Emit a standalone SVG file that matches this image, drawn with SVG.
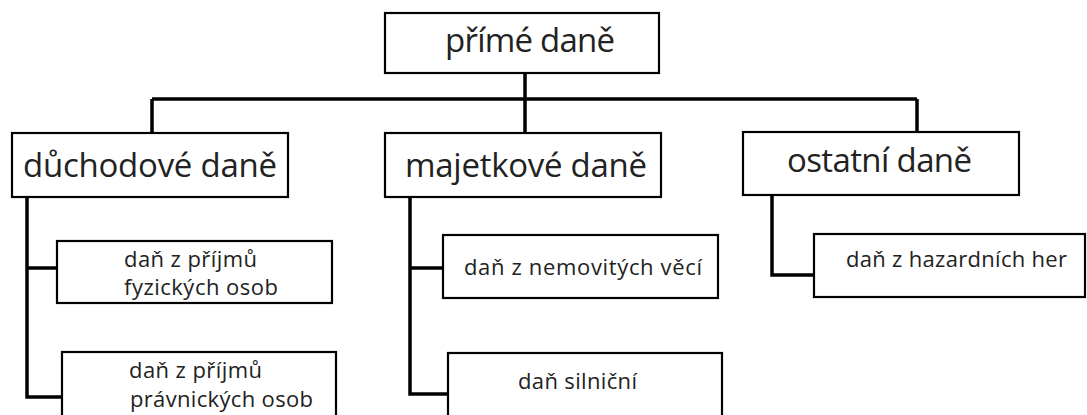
<svg xmlns="http://www.w3.org/2000/svg" width="1087" height="415" viewBox="0 0 1087 415">
<style>
.box{fill:#fff;stroke:#000;stroke-width:2.2}
.con{fill:none;stroke:#000;stroke-width:3.5;stroke-linejoin:miter}
.t{font-family:"Open Sans","Noto Sans","DejaVu Sans",sans-serif;fill:#222}
.big{font-size:33px}
.sm{font-size:22px}
</style>
<rect width="1087" height="415" fill="#fff"/>
<g id="connectors">
<path class="con" d="M525 73V99M152 99H917M152 99V133M525 99V133M917 99V132"/>
<path class="con" d="M27 197V397H62M27 268H57"/>
<path class="con" d="M410 196V394H449M410 268H443"/>
<path class="con" d="M772 195V275H814"/>
</g>
<g id="n-prime">
<rect class="box" x="385" y="13" width="274" height="60"/>
<text class="t big" x="445" y="52" textLength="170">přímé daně</text>
</g>
<g id="n-duchodove">
<rect class="box" x="12" y="133" width="276" height="64"/>
<text class="t big" x="23" y="177" textLength="254">důchodové daně</text>
</g>
<g id="n-majetkove">
<rect class="box" x="385" y="133" width="276" height="64"/>
<text class="t big" x="405" y="177" textLength="242">majetkové daně</text>
</g>
<g id="n-ostatni">
<rect class="box" x="743" y="132" width="276" height="63"/>
<text class="t big" x="787" y="172" textLength="185">ostatní daně</text>
</g>
<g id="n-fo">
<rect class="box" x="57" y="241" width="275" height="62"/>
<text class="t sm" x="124" y="267" textLength="133">daň z příjmů</text>
<text class="t sm" x="124" y="295" textLength="154">fyzických osob</text>
</g>
<g id="n-po">
<rect class="box" x="62" y="352" width="274" height="70"/>
<text class="t sm" x="129" y="378" textLength="133">daň z příjmů</text>
<text class="t sm" x="130" y="407" textLength="183">právnických osob</text>
</g>
<g id="n-nemovitosti">
<rect class="box" x="443" y="235" width="275" height="63"/>
<text class="t sm" x="464" y="275" textLength="238">daň z nemovitých věcí</text>
</g>
<g id="n-silnicni">
<rect class="box" x="448" y="353" width="274" height="70"/>
<text class="t sm" x="518" y="389" textLength="119">daň silniční</text>
</g>
<g id="n-hazard">
<rect class="box" x="814" y="234" width="271" height="63"/>
<text class="t sm" x="846" y="267" textLength="221">daň z hazardních her</text>
</g>
</svg>
